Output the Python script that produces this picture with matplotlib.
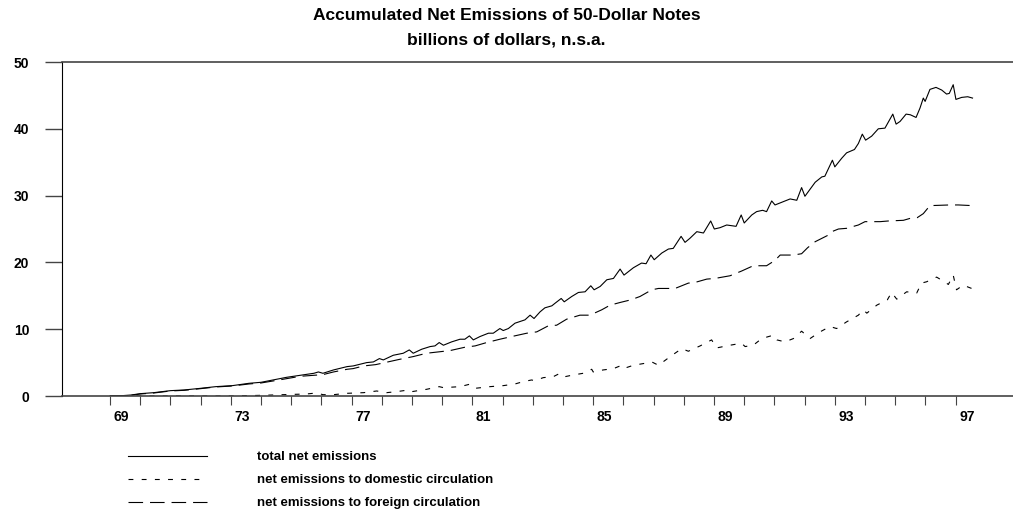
#!/usr/bin/env python3
"""
Accumulated net emissions of 50-dollar notes, 1969-1997.
Values read off the published chart (billions of dollars, n.s.a.).
"""

import matplotlib
matplotlib.use("Agg")
import matplotlib.pyplot as plt

# total net emissions
total_years = [
    1969.0, 1969.4, 1969.7, 1970.0, 1970.45, 1971.0, 1971.45, 1972.0, 1972.5,
    1973.05, 1973.6, 1974.0, 1974.4, 1974.85, 1975.3, 1975.75, 1975.9, 1976.05,
    1976.4, 1976.85, 1977.05, 1977.5, 1977.72, 1977.92, 1978.05, 1978.38,
    1978.71, 1978.91, 1979.04, 1979.32, 1979.6, 1979.76, 1979.9, 1980.04,
    1980.31, 1980.59, 1980.75, 1980.9, 1981.03, 1981.25, 1981.53, 1981.69,
    1981.91, 1982.02, 1982.19, 1982.41, 1982.74, 1982.91, 1983.04, 1983.24,
    1983.4, 1983.63, 1983.74, 1983.94, 1984.04, 1984.29, 1984.51, 1984.73,
    1984.92, 1985.03, 1985.23, 1985.45, 1985.67, 1985.89, 1986.02, 1986.33,
    1986.6, 1986.75, 1986.91, 1987.02, 1987.27, 1987.49, 1987.65, 1987.91,
    1988.04, 1988.2, 1988.43, 1988.65, 1988.89, 1989.01, 1989.2, 1989.42,
    1989.73, 1989.9, 1990.0, 1990.25, 1990.41, 1990.61, 1990.74, 1990.91,
    1991.02, 1991.3, 1991.52, 1991.74, 1991.9, 1992.01, 1992.35, 1992.57,
    1992.67, 1992.92, 1993.0, 1993.23, 1993.39, 1993.65, 1993.78, 1993.91,
    1994.02, 1994.22, 1994.44, 1994.66, 1994.92, 1995.03, 1995.16, 1995.36,
    1995.5, 1995.69, 1995.82, 1995.93, 1995.99, 1996.15, 1996.35, 1996.54,
    1996.7, 1996.79, 1996.92, 1997.01, 1997.2, 1997.4, 1997.56,
]
total_vals = [
    0.0, 0.05, 0.15, 0.35, 0.5, 0.8, 0.9, 1.15, 1.4,
    1.55, 1.9, 2.05, 2.4, 2.8, 3.1, 3.4, 3.6, 3.4,
    3.9, 4.4, 4.5, 5.0, 5.1, 5.6, 5.4, 6.1,
    6.4, 6.9, 6.4, 7.0, 7.4, 7.5, 8.0, 7.6,
    8.1, 8.5, 8.5, 9.0, 8.4, 8.9, 9.4, 9.4,
    10.1, 9.8, 10.1, 10.9, 11.4, 12.1, 11.6, 12.6,
    13.2, 13.5, 13.9, 14.6, 14.1, 14.9, 15.5, 15.6,
    16.5, 15.9, 16.4, 17.4, 17.6, 19.0, 18.1, 19.2,
    19.9, 19.8, 21.1, 20.4, 21.4, 22.0, 22.1, 23.9,
    23.0, 23.6, 24.6, 24.4, 26.2, 25.0, 25.2, 25.6,
    25.4, 27.1, 25.9, 27.1, 27.6, 27.8, 27.6, 29.2,
    28.6, 29.1, 29.5, 29.3, 31.2, 29.9, 32.0, 32.8,
    32.9, 35.3, 34.3, 35.6, 36.4, 36.9, 37.8, 39.2,
    38.3, 38.9, 40.0, 40.1, 42.2, 40.7, 41.1, 42.2,
    42.1, 41.7, 43.1, 44.6, 44.1, 45.9, 46.2, 45.8,
    45.2, 45.3, 46.6, 44.4, 44.7, 44.8, 44.6,
]

# net emissions to domestic circulation (short dashes)
dom_years = [
    1969.0, 1973.0, 1974.0, 1974.74, 1975.5, 1975.84, 1976.05, 1976.4, 1976.84,
    1977.4, 1977.83, 1978.16, 1978.49, 1978.88, 1978.99, 1979.48, 1979.9,
    1980.04, 1980.59, 1980.9, 1981.09, 1981.58, 1982.02, 1982.41, 1982.68,
    1982.96, 1983.05, 1983.35, 1983.68, 1983.9, 1984.07, 1984.34, 1984.67,
    1984.95, 1985.0, 1985.33, 1985.67, 1985.89, 1986.0, 1986.33, 1986.72,
    1986.94, 1987.16, 1987.55, 1987.93, 1988.15, 1988.54, 1988.92, 1989.09,
    1989.53, 1989.91, 1990.03, 1990.3, 1990.58, 1990.96, 1991.08, 1991.35,
    1991.63, 1991.9, 1992.18, 1992.51, 1992.84, 1993.06, 1993.39, 1993.78,
    1993.94, 1994.06, 1994.39, 1994.74, 1994.88, 1995.05, 1995.38, 1995.71,
    1995.87, 1996.04, 1996.37, 1996.59, 1996.76, 1996.92, 1997.03, 1997.25,
    1997.53,
]
dom_vals = [
    0.0, 0.0, 0.1, 0.2, 0.3, 0.45, 0.2, 0.2, 0.4,
    0.5, 0.75, 0.5, 0.65, 0.9, 0.65, 1.0, 1.4,
    1.25, 1.4, 1.75, 1.15, 1.4, 1.55, 1.8, 2.15,
    2.4, 2.3, 2.75, 2.9, 3.4, 2.9, 3.15, 3.4,
    4.0, 3.6, 3.9, 4.1, 4.5, 4.1, 4.6, 4.9,
    5.1, 4.6, 5.9, 7.1, 6.7, 7.5, 8.4, 7.2,
    7.6, 7.9, 7.4, 7.6, 8.6, 9.1, 8.4, 8.1,
    8.6, 9.7, 8.6, 9.6, 10.4, 10.1, 11.1, 12.1,
    12.9, 12.4, 13.6, 14.4, 15.5, 14.5, 15.6, 15.4,
    16.9, 17.1, 17.8, 17.2, 16.7, 18.1, 15.9, 16.6,
    16.1,
]

# net emissions to foreign circulation (long dashes)
for_years = [
    1969.0, 1969.7, 1970.0, 1970.45, 1971.0, 1971.45, 1972.0, 1972.5, 1973.05,
    1973.6, 1974.0, 1974.4, 1974.85, 1975.3, 1975.75, 1976.05, 1976.4, 1976.85,
    1977.05, 1977.4, 1977.8, 1978.1, 1978.6, 1979.04, 1979.48, 1979.87,
    1980.26, 1980.75, 1981.09, 1981.47, 1981.91, 1982.3, 1982.8, 1983.13,
    1983.51, 1983.79, 1984.12, 1984.56, 1984.89, 1985.28, 1985.56, 1985.89,
    1986.25, 1986.55, 1986.94, 1987.16, 1987.71, 1988.15, 1988.37, 1988.76,
    1989.03, 1989.53, 1989.91, 1990.3, 1990.74, 1991.02, 1991.19, 1991.63,
    1991.9, 1992.1, 1992.35, 1992.79, 1992.9, 1993.12, 1993.39, 1993.78,
    1994.0, 1994.5, 1994.77, 1995.27, 1995.5, 1995.73, 1995.93, 1996.15,
    1996.81, 1997.09, 1997.56,
]
for_vals = [
    0.0, 0.1, 0.3, 0.45, 0.75, 0.85, 1.1, 1.35, 1.5,
    1.8, 1.95, 2.25, 2.6, 2.95, 3.1, 3.2, 3.6, 4.0,
    4.1, 4.5, 4.7, 5.0, 5.5, 5.9, 6.4, 6.6,
    6.8, 7.3, 7.5, 8.0, 8.5, 8.9, 9.4, 9.6,
    10.5, 10.6, 11.5, 12.1, 12.1, 12.9, 13.6, 14.0,
    14.4, 14.9, 15.9, 16.1, 16.1, 16.9, 17.0, 17.5,
    17.6, 18.0, 18.7, 19.5, 19.5, 20.3, 21.1, 21.1,
    21.3, 22.2, 23.1, 24.1, 24.6, 25.0, 25.1, 25.6,
    26.1, 26.1, 26.2, 26.3, 26.6, 26.7, 27.3, 28.5,
    28.6, 28.6, 28.5,
]

tick_years = list(range(1969, 1998))
label_years = list(range(1969, 1998, 4))
y_ticks = [0, 10, 20, 30, 40, 50]

FONT = ["Liberation Sans Narrow", "Liberation Sans", "DejaVu Sans"]


def main():
    plt.rcParams["font.family"] = FONT
    plt.rcParams["font.weight"] = "bold"
    plt.rcParams["lines.scale_dashes"] = False

    fig = plt.figure(figsize=(10.13, 5.14), dpi=100)
    ax = fig.add_axes([62 / 1013, 118 / 514, 951 / 1013, 334 / 514])

    ax.plot(total_years, total_vals, color="black", lw=0.8,
            label="total net emissions")
    ax.plot(dom_years, dom_vals, color="black", lw=0.8, dashes=(3.5, 6),
            label="net emissions to domestic circulation")
    ax.plot(for_years, for_vals, color="black", lw=0.8, dashes=(10.5, 5),
            label="net emissions to foreign circulation")

    ax.set_xlim(1967.41, 1998.9)
    ax.set_ylim(0, 50)

    # year boundaries get ticks, labels sit a bit left of mid-year
    ax.set_xticks(tick_years, minor=True)
    ax.set_xticks([y + 0.37 for y in label_years])
    ax.set_xticklabels([str(y)[2:] for y in label_years])
    ax.tick_params(axis="x", which="minor", direction="out", length=6.5,
                   width=0.8, color="#444444")
    ax.tick_params(axis="x", which="major", length=0, pad=10, labelsize=10)

    ax.set_yticks(y_ticks)
    ax.tick_params(axis="y", direction="out", length=12.5, width=1.0,
                   pad=11, labelsize=10, color="#444444")

    for side in ("top", "bottom"):
        ax.spines[side].set_color("#444444")
        ax.spines[side].set_linewidth(1.2)
    ax.spines["left"].set_linewidth(0.8)
    ax.spines["right"].set_visible(False)

    fig.text(0.5, 1 - 16 / 514, "Accumulated Net Emissions of 50-Dollar Notes",
             ha="center", va="center", fontsize=12.5, fontweight="bold")
    fig.text(0.5, 1 - 40 / 514, "billions of dollars, n.s.a.",
             ha="center", va="center", fontsize=12.5, fontweight="bold")

    fig.legend(loc="upper left", bbox_to_anchor=(128 / 1013, 1 - 451 / 514),
               frameon=False, fontsize=9.5, handlelength=6.0,
               handletextpad=3.8, labelspacing=0.82, borderpad=0,
               borderaxespad=0)

    fig.savefig("out.png", dpi=100)
    plt.close(fig)


if __name__ == "__main__":
    main()
